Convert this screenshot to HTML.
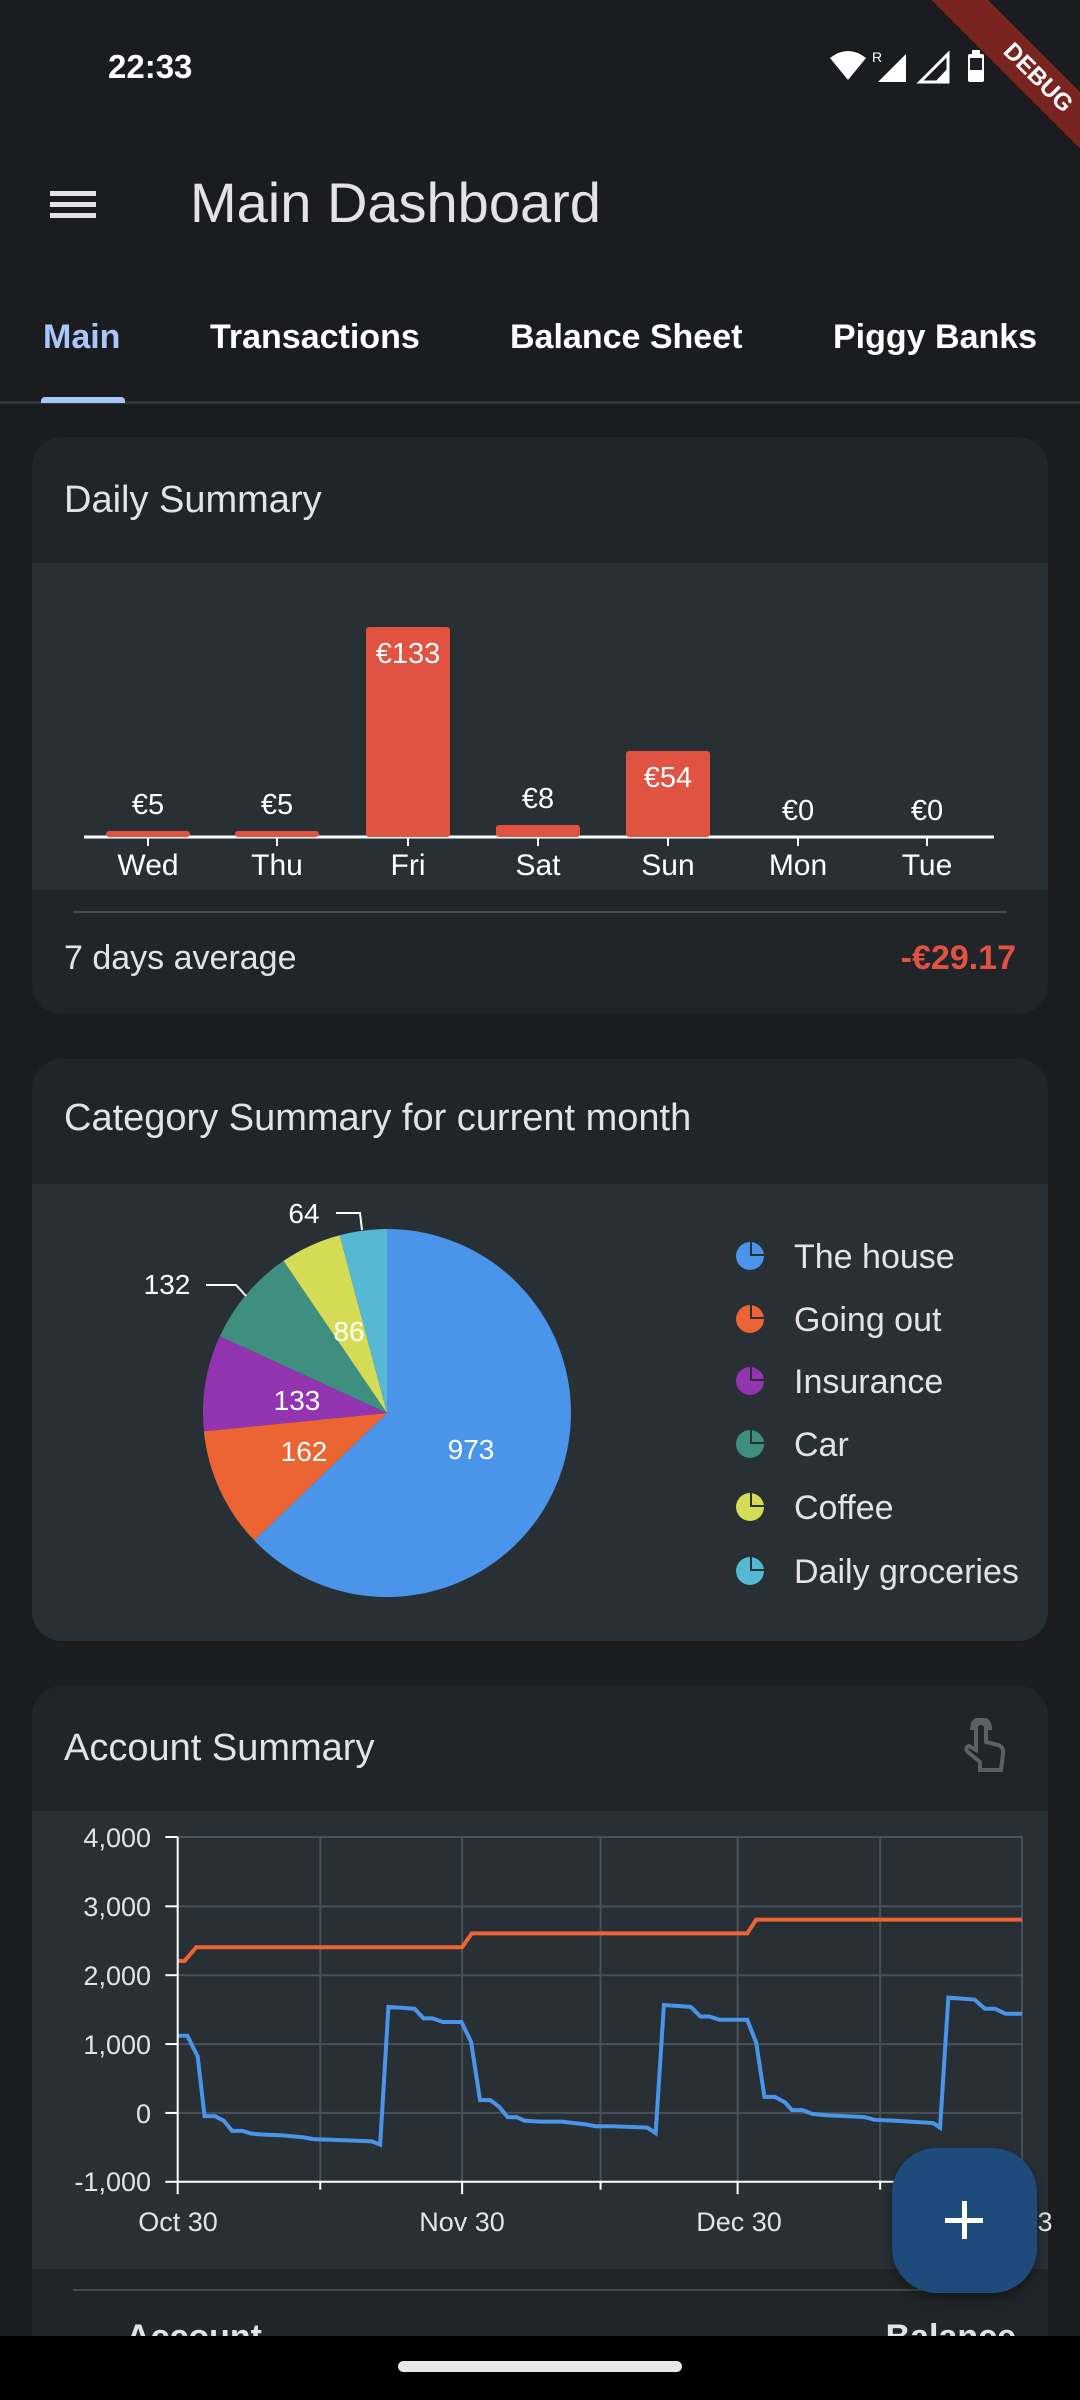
<!DOCTYPE html>
<html style="width:1080px;height:2400px;overflow:hidden"><head><meta charset="utf-8"><style>
*{margin:0;padding:0;box-sizing:border-box}
body{width:1080px;height:2400px;background:#1b1c1f;font-family:"Liberation Sans",sans-serif;color:#e3e3e6;position:relative;overflow:hidden}
.a{position:absolute;white-space:nowrap}
.card{position:absolute;left:32px;width:1016px;background:#212428;border-radius:30px;overflow:hidden}
.area{position:absolute;left:0;width:1016px;background:#283036}
</style></head><body>
<div class="a" style="left:108px;top:48px;font-size:33px;font-weight:bold;color:#fff">22:33</div>
<svg class="a" style="left:828px;top:48px" width="165" height="36" viewBox="0 0 165 36">
<path d="M2 10 Q20 -4 38 10 L20 32 Z" fill="#fff"/>
<text x="44" y="14" font-size="14" fill="#fff" font-family="Liberation Sans">R</text>
<path d="M50 34 L78 6 L78 34 Z" fill="#fff"/>
<path d="M92 34 L120 6 L120 34 Z" fill="none" stroke="#fff" stroke-width="3"/>
<path d="M107 34 L120 20 L120 34Z" fill="#fff"/>
<rect x="140" y="6" width="16" height="28" rx="2" fill="#fff"/><rect x="144" y="2" width="8" height="4" fill="#fff"/>
<rect x="142" y="10" width="12" height="12" fill="#1b1c1f"/>
</svg>
<div class="a" style="width:260px;height:40px;background:#7a2420;transform:rotate(45deg);transform-origin:0 0;color:#fff;font-weight:bold;font-size:24px;text-align:center;line-height:40px;left:960px;top:-28px">DEBUG</div>
<div class="a" style="left:50px;top:191px;width:46px;height:5px;background:#e3e3e6"></div>
<div class="a" style="left:50px;top:202px;width:46px;height:5px;background:#e3e3e6"></div>
<div class="a" style="left:50px;top:213px;width:46px;height:5px;background:#e3e3e6"></div>
<div class="a" style="left:190px;top:170px;font-size:56px;color:#e3e3e6">Main Dashboard</div>
<div class="a" style="left:43px;top:318px;font-size:34px;font-weight:bold;color:#a8c7fa">Main</div>
<div class="a" style="left:210px;top:318px;font-size:34px;font-weight:bold;color:#fff">Transactions</div>
<div class="a" style="left:510px;top:318px;font-size:34px;font-weight:bold;color:#fff">Balance Sheet</div>
<div class="a" style="left:833px;top:318px;font-size:34px;font-weight:bold;color:#fff">Piggy Banks</div>
<div class="a" style="left:0;top:401px;width:1080px;height:3px;background:#2e353b"></div>
<div class="a" style="left:41px;top:397px;width:84px;height:6px;background:#a8c7fa;border-radius:4px 4px 0 0"></div>

<div class="card" style="top:437px;height:577px">
<div class="a" style="left:32px;top:42px;font-size:38px;color:#e3e3e6">Daily Summary</div>
<div class="area" style="top:126px;height:327px"></div>
<div class="a" style="left:41px;top:474px;width:934px;height:2px;background:#444a50"></div>
<div class="a" style="left:32px;top:502px;font-size:34px">7 days average</div>
<div class="a" style="right:32px;top:502px;font-size:34px;font-weight:bold;color:#e05242">-€29.17</div>
</div>
<svg class="a" style="left:0;top:560px" width="1080" height="340" font-family="Liberation Sans" font-size="29" text-anchor="middle" fill="#fff">
<line x1="84" y1="277" x2="994" y2="277" stroke="#fff" stroke-width="3"/>
<g fill="#e05242">
<rect x="106" y="271" width="84" height="6" rx="3"/><rect x="235" y="271" width="84" height="6" rx="3"/>
<rect x="366" y="67" width="84" height="210" rx="3"/><rect x="496" y="265" width="84" height="12" rx="3"/>
<rect x="626" y="191" width="84" height="86" rx="3"/></g>
<g stroke="#fff" stroke-width="2"><line x1="148" y1="277" x2="148" y2="286"/><line x1="277" y1="277" x2="277" y2="286"/><line x1="408" y1="277" x2="408" y2="286"/><line x1="538" y1="277" x2="538" y2="286"/><line x1="668" y1="277" x2="668" y2="286"/><line x1="798" y1="277" x2="798" y2="286"/><line x1="927" y1="277" x2="927" y2="286"/></g>
<text x="148" y="254">€5</text><text x="277" y="254">€5</text><text x="408" y="103">€133</text><text x="538" y="248">€8</text><text x="668" y="227">€54</text><text x="798" y="260">€0</text><text x="927" y="260">€0</text>
<g font-size="30"><text x="148" y="315">Wed</text><text x="277" y="315">Thu</text><text x="408" y="315">Fri</text><text x="538" y="315">Sat</text><text x="668" y="315">Sun</text><text x="798" y="315">Mon</text><text x="927" y="315">Tue</text></g>
</svg>

<div class="card" style="top:1059px;height:582px">
<div class="a" style="left:32px;top:38px;font-size:38px">Category Summary for current month</div>
<div class="area" style="top:125px;height:457px"></div>
</div>
<svg class="a" style="left:0;top:1184px" width="1080" height="450" font-family="Liberation Sans">
<g transform="translate(387,229)">
<path d="M0 0 L0 -184 A184 184 0 1 1 -132.8 127.4 Z" fill="#4a94ea"/>
<path d="M0 0 L-132.8 127.4 A184 184 0 0 1 -183.1 18.3 Z" fill="#ec6434"/>
<path d="M0 0 L-183.1 18.3 A184 184 0 0 1 -167.2 -76.8 Z" fill="#9334b0"/>
<path d="M0 0 L-167.2 -76.8 A184 184 0 0 1 -103.5 -152.1 Z" fill="#3f8f80"/>
<path d="M0 0 L-103.5 -152.1 A184 184 0 0 1 -47.3 -177.8 Z" fill="#d4dc56"/>
<path d="M0 0 L-47.3 -177.8 A184 184 0 0 1 0 -184 Z" fill="#57b8d4"/>
</g>
<g fill="#fff" font-size="28" text-anchor="middle">
<text x="471" y="275">973</text><text x="304" y="277">162</text><text x="297" y="226">133</text><text x="349" y="157">86</text>
<text x="167" y="110">132</text><text x="304" y="39">64</text></g>
<polyline points="206,101 236,101 246,112" fill="none" stroke="#fff" stroke-width="2"/>
<polyline points="336,29 360,29 362,46" fill="none" stroke="#fff" stroke-width="2"/>
<g font-size="34" fill="#e3e3e6">
<text x="794" y="84">The house</text><text x="794" y="147">Going out</text><text x="794" y="209">Insurance</text><text x="794" y="272">Car</text><text x="794" y="335">Coffee</text><text x="794" y="399">Daily groceries</text></g>
<g>
<circle cx="750" cy="72" r="14" fill="#4a94ea"/><circle cx="750" cy="135" r="14" fill="#ec6434"/><circle cx="750" cy="197" r="14" fill="#9334b0"/><circle cx="750" cy="260" r="14" fill="#3f8f80"/><circle cx="750" cy="323" r="14" fill="#d4dc56"/><circle cx="750" cy="387" r="14" fill="#57b8d4"/>
<g fill="#283036"><rect x="750" y="56" width="2" height="16"/><rect x="750" y="70" width="16" height="2"/>
<rect x="750" y="119" width="2" height="16"/><rect x="750" y="133" width="16" height="2"/>
<rect x="750" y="181" width="2" height="16"/><rect x="750" y="195" width="16" height="2"/>
<rect x="750" y="244" width="2" height="16"/><rect x="750" y="258" width="16" height="2"/>
<rect x="750" y="307" width="2" height="16"/><rect x="750" y="321" width="16" height="2"/>
<rect x="750" y="371" width="2" height="16"/><rect x="750" y="385" width="16" height="2"/></g></g>
</svg>

<div class="card" style="top:1686px;height:714px;border-radius:30px 30px 0 0">
<div class="a" style="left:32px;top:41px;font-size:38px">Account Summary</div>
<div class="area" style="top:125px;height:458px"></div>
<div class="a" style="left:41px;top:603px;width:934px;height:2px;background:#444a50"></div>
<div class="a" style="left:94px;top:632px;font-size:34px;font-weight:bold">Account</div>
<div class="a" style="right:32px;top:632px;font-size:34px;font-weight:bold">Balance</div>
</div>
<svg class="a" style="left:960px;top:1718px" width="50" height="60" viewBox="0 0 50 60"><path d="M20 44 L8 34 Q4 30 9 28 L16 32 L16 10 Q16 5 21 5 Q26 5 26 10 L26 24 L38 27 Q44 29 43 36 L41 52 L20 52Z M12 12 Q12 1 21 1 Q30 1 30 12" fill="none" stroke="#5b6066" stroke-width="4"/></svg>
<svg class="a" style="left:0;top:1680px" width="1080" height="720" font-family="Liberation Sans">
<g transform="scale(0.6887,0.4591)">
<g stroke="#485058" stroke-width="2" fill="none">
<line x1="258" y1="342" x2="1484" y2="342" vector-effect="non-scaling-stroke"/><line x1="258" y1="493" x2="1484" y2="493" vector-effect="non-scaling-stroke"/><line x1="258" y1="643" x2="1484" y2="643" vector-effect="non-scaling-stroke"/><line x1="258" y1="793" x2="1484" y2="793" vector-effect="non-scaling-stroke"/><line x1="258" y1="943" x2="1484" y2="943" vector-effect="non-scaling-stroke"/>
<line x1="465" y1="342" x2="465" y2="1093" vector-effect="non-scaling-stroke"/><line x1="671" y1="342" x2="671" y2="1093" vector-effect="non-scaling-stroke"/><line x1="872" y1="342" x2="872" y2="1093" vector-effect="non-scaling-stroke"/><line x1="1071" y1="342" x2="1071" y2="1093" vector-effect="non-scaling-stroke"/><line x1="1278" y1="342" x2="1278" y2="1093" vector-effect="non-scaling-stroke"/><line x1="1484" y1="342" x2="1484" y2="1093" vector-effect="non-scaling-stroke"/>
</g>
<polyline points="258,612 268,612 285,582 671,582 685,552 1085,552 1098,522 1484,522" fill="none" stroke="#ec6434" stroke-width="4" vector-effect="non-scaling-stroke"/>
<polyline points="258,775 272,775 287,820 297,950 312,950 325,960 337,982 352,982 365,988 380,990 410,992 440,996 455,1000 510,1003 540,1005 552,1012 564,712 602,716 615,737 628,737 643,745 670,745 684,788 697,915 712,915 725,930 737,952 750,952 762,960 785,962 815,962 850,968 865,972 890,972 940,975 952,987 964,708 1003,712 1017,733 1030,733 1045,740 1085,740 1098,790 1110,908 1125,908 1140,920 1150,937 1165,937 1180,945 1200,948 1255,952 1270,958 1300,960 1355,965 1365,975 1377,692 1415,696 1430,716 1445,716 1460,727 1484,727" fill="none" stroke="#4a94ea" stroke-width="4" vector-effect="non-scaling-stroke"/>
<g stroke="#fff" stroke-width="2" fill="none">
<line x1="258" y1="342" x2="258" y2="1093" vector-effect="non-scaling-stroke"/><line x1="258" y1="1093" x2="1484" y2="1093" vector-effect="non-scaling-stroke"/>
<line x1="240" y1="342" x2="258" y2="342" vector-effect="non-scaling-stroke"/><line x1="240" y1="493" x2="258" y2="493" vector-effect="non-scaling-stroke"/><line x1="240" y1="643" x2="258" y2="643" vector-effect="non-scaling-stroke"/><line x1="240" y1="793" x2="258" y2="793" vector-effect="non-scaling-stroke"/><line x1="240" y1="943" x2="258" y2="943" vector-effect="non-scaling-stroke"/><line x1="240" y1="1093" x2="258" y2="1093" vector-effect="non-scaling-stroke"/>
<line x1="258" y1="1093" x2="258" y2="1120" vector-effect="non-scaling-stroke"/><line x1="465" y1="1093" x2="465" y2="1110" vector-effect="non-scaling-stroke"/><line x1="671" y1="1093" x2="671" y2="1120" vector-effect="non-scaling-stroke"/><line x1="872" y1="1093" x2="872" y2="1110" vector-effect="non-scaling-stroke"/><line x1="1071" y1="1093" x2="1071" y2="1120" vector-effect="non-scaling-stroke"/><line x1="1278" y1="1093" x2="1278" y2="1110" vector-effect="non-scaling-stroke"/>
</g></g>
<g fill="#e3e3e6" font-size="27" text-anchor="end">
<text x="151" y="167">4,000</text><text x="151" y="236">3,000</text><text x="151" y="305">2,000</text><text x="151" y="374">1,000</text><text x="151" y="443">0</text><text x="151" y="511">-1,000</text></g>
<g fill="#e3e3e6" font-size="27" text-anchor="middle"><text x="178" y="551">Oct 30</text><text x="462" y="551">Nov 30</text><text x="739" y="551">Dec 30</text><text x="1045" y="551">3</text></g>
</svg>
<div class="a" style="left:892px;top:2148px;width:145px;height:145px;border-radius:45px;background:#1e4a7c;box-shadow:0 4px 10px rgba(0,0,0,.4)"></div>
<div class="a" style="left:945px;top:2218px;width:38px;height:5px;background:#fff"></div>
<div class="a" style="left:962px;top:2201px;width:5px;height:38px;background:#fff"></div>
<div class="a" style="left:0;top:2336px;width:1080px;height:64px;background:#000"></div>
<div class="a" style="left:398px;top:2361px;width:284px;height:11px;border-radius:6px;background:#e8e8e8"></div>
</body></html>
